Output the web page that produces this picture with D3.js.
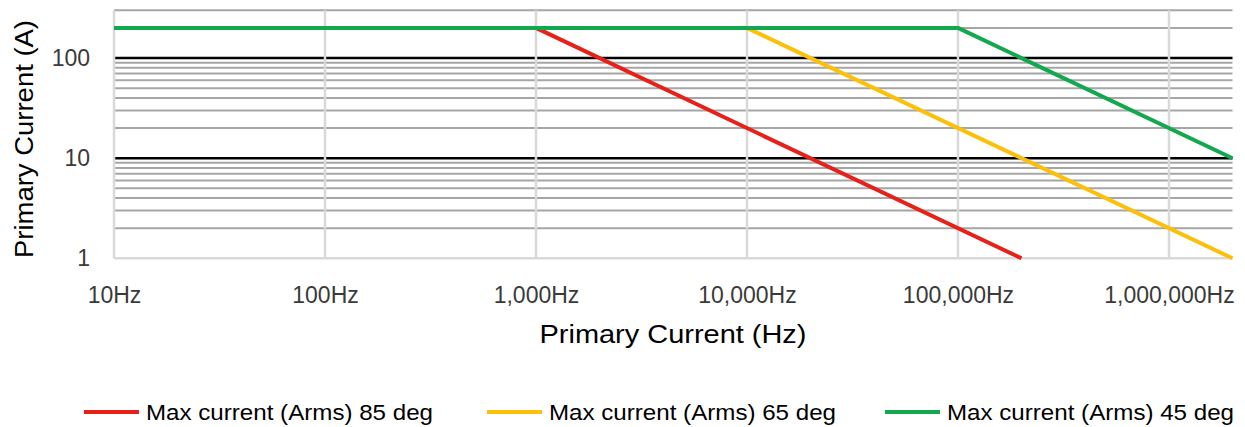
<!DOCTYPE html>
<html>
<head>
<meta charset="utf-8">
<script src="https://cdn.jsdelivr.net/npm/d3@7"></script>
<style>
body { margin: 0; background: #fff; }
.tick-label { font-family: "Liberation Sans", Arial, sans-serif; font-size: 23px; fill: #3a3a3a; }
.axis-title { font-family: "Liberation Sans", Arial, sans-serif; font-size: 25px; fill: #000; }
.legend-text { font-family: "Liberation Sans Narrow", "Liberation Sans", sans-serif; font-size: 22px; fill: #000; }
</style>
</head>
<body>
<svg id="chart"></svg>
<script>
// data
var seriesNames = ["Max current (Arms) 85 deg", "Max current (Arms) 65 deg", "Max current (Arms) 45 deg"];
var seriesColors = ["#e8201a", "#fcc00a", "#12a84e"];
var freq85 = [10, 1000, 200000];
var amps85 = [200, 200, 1];
var freq65 = [10, 10000, 2000000];
var amps65 = [200, 200, 1];
var freq45 = [10, 100000, 2000000];
var amps45 = [200, 200, 10];
var xTicks = [10, 100, 1000, 10000, 100000, 1000000];
var yTicks = [1, 10, 100];
var yMinor = [2, 3, 4, 5, 6, 7, 8, 9, 20, 30, 40, 50, 60, 70, 80, 90, 200, 300];

var W = 1245, H = 427;
var margin = {top: 10.3, left: 114, right: 12.5, bottom: 168.7};
var width = W - margin.left - margin.right;
var height = H - margin.top - margin.bottom;

var svg = d3.select("#chart").attr("width", W).attr("height", H);
var g = svg.append("g").attr("transform", "translate(" + margin.left + "," + margin.top + ")");

var x = d3.scaleLog().domain([10, 2000000]).range([0, width]);
var y = d3.scaleLog().domain([1, 300]).range([height, 0]);

// horizontal minor grid
g.selectAll(".minor").data(yMinor).enter().append("line")
    .attr("x1", 0).attr("x2", width)
    .attr("y1", function(d){ return y(d) }).attr("y2", function(d){ return y(d) })
    .attr("stroke", "#a6a6a6").attr("stroke-width", 2);

// major grid (10, 100) black
g.selectAll(".major").data([10, 100]).enter().append("line")
    .attr("x1", 0).attr("x2", width)
    .attr("y1", function(d){ return y(d) }).attr("y2", function(d){ return y(d) })
    .attr("stroke", "#000").attr("stroke-width", 2.5);

// vertical grid
g.selectAll(".vgrid").data(xTicks).enter().append("line")
    .attr("x1", function(d){ return x(d) }).attr("x2", function(d){ return x(d) })
    .attr("y1", 0).attr("y2", height)
    .attr("stroke", "#d9d9d9").attr("stroke-width", 2.5);

// bottom axis line
g.append("line").attr("x1", 0).attr("x2", width).attr("y1", height).attr("y2", height)
    .attr("stroke", "#d9d9d9").attr("stroke-width", 2.5);

// x axis labels
var xAxis = d3.axisBottom(x).tickValues(xTicks).tickSize(0).tickPadding(0)
    .tickFormat(function(d){ return d3.format(",")(d) + "Hz" });
var xg = g.append("g").attr("transform", "translate(0," + height + ")").call(xAxis);
xg.select(".domain").remove();
xg.selectAll("text").attr("class", "tick-label").attr("dy", null).attr("y", 45);

// y axis labels
var yAxis = d3.axisLeft(y).tickValues(yTicks).tickSize(0).tickPadding(24)
    .tickFormat(d3.format("d"));
var yg = g.append("g").call(yAxis);
yg.select(".domain").remove();
yg.selectAll("text").attr("class", "tick-label");

// series
var line = d3.line().x(function(d){ return x(d[0]) }).y(function(d){ return y(d[1]) });
var series = [d3.zip(freq85, amps85), d3.zip(freq65, amps65), d3.zip(freq45, amps45)];
series.forEach(function(s, i){
    g.append("path").datum(s)
        .attr("d", line)
        .attr("fill", "none")
        .attr("stroke", seriesColors[i])
        .attr("stroke-width", 4)
        .attr("stroke-linejoin", "round");
});

// axis titles
svg.append("text").attr("class", "axis-title")
    .attr("x", 673).attr("y", 343).attr("text-anchor", "middle")
    .attr("textLength", 267).attr("lengthAdjust", "spacingAndGlyphs")
    .text("Primary Current (Hz)");
svg.append("text").attr("class", "axis-title")
    .attr("transform", "translate(33,139) rotate(-90)").attr("text-anchor", "middle")
    .attr("textLength", 238).attr("lengthAdjust", "spacingAndGlyphs")
    .text("Primary Current (A)");

// legend
var legendX = [84, 487, 885];
var legend = svg.append("g").attr("transform", "translate(0,412)");
seriesNames.forEach(function(name, i){
    legend.append("line")
        .attr("x1", legendX[i]).attr("x2", legendX[i] + 55)
        .attr("y1", 0).attr("y2", 0)
        .attr("stroke", seriesColors[i]).attr("stroke-width", 4);
    legend.append("text").attr("class", "legend-text")
        .attr("x", legendX[i] + 62).attr("y", 8)
        .attr("textLength", 287).attr("lengthAdjust", "spacingAndGlyphs")
        .text(name);
});
</script>
</body>
</html>
